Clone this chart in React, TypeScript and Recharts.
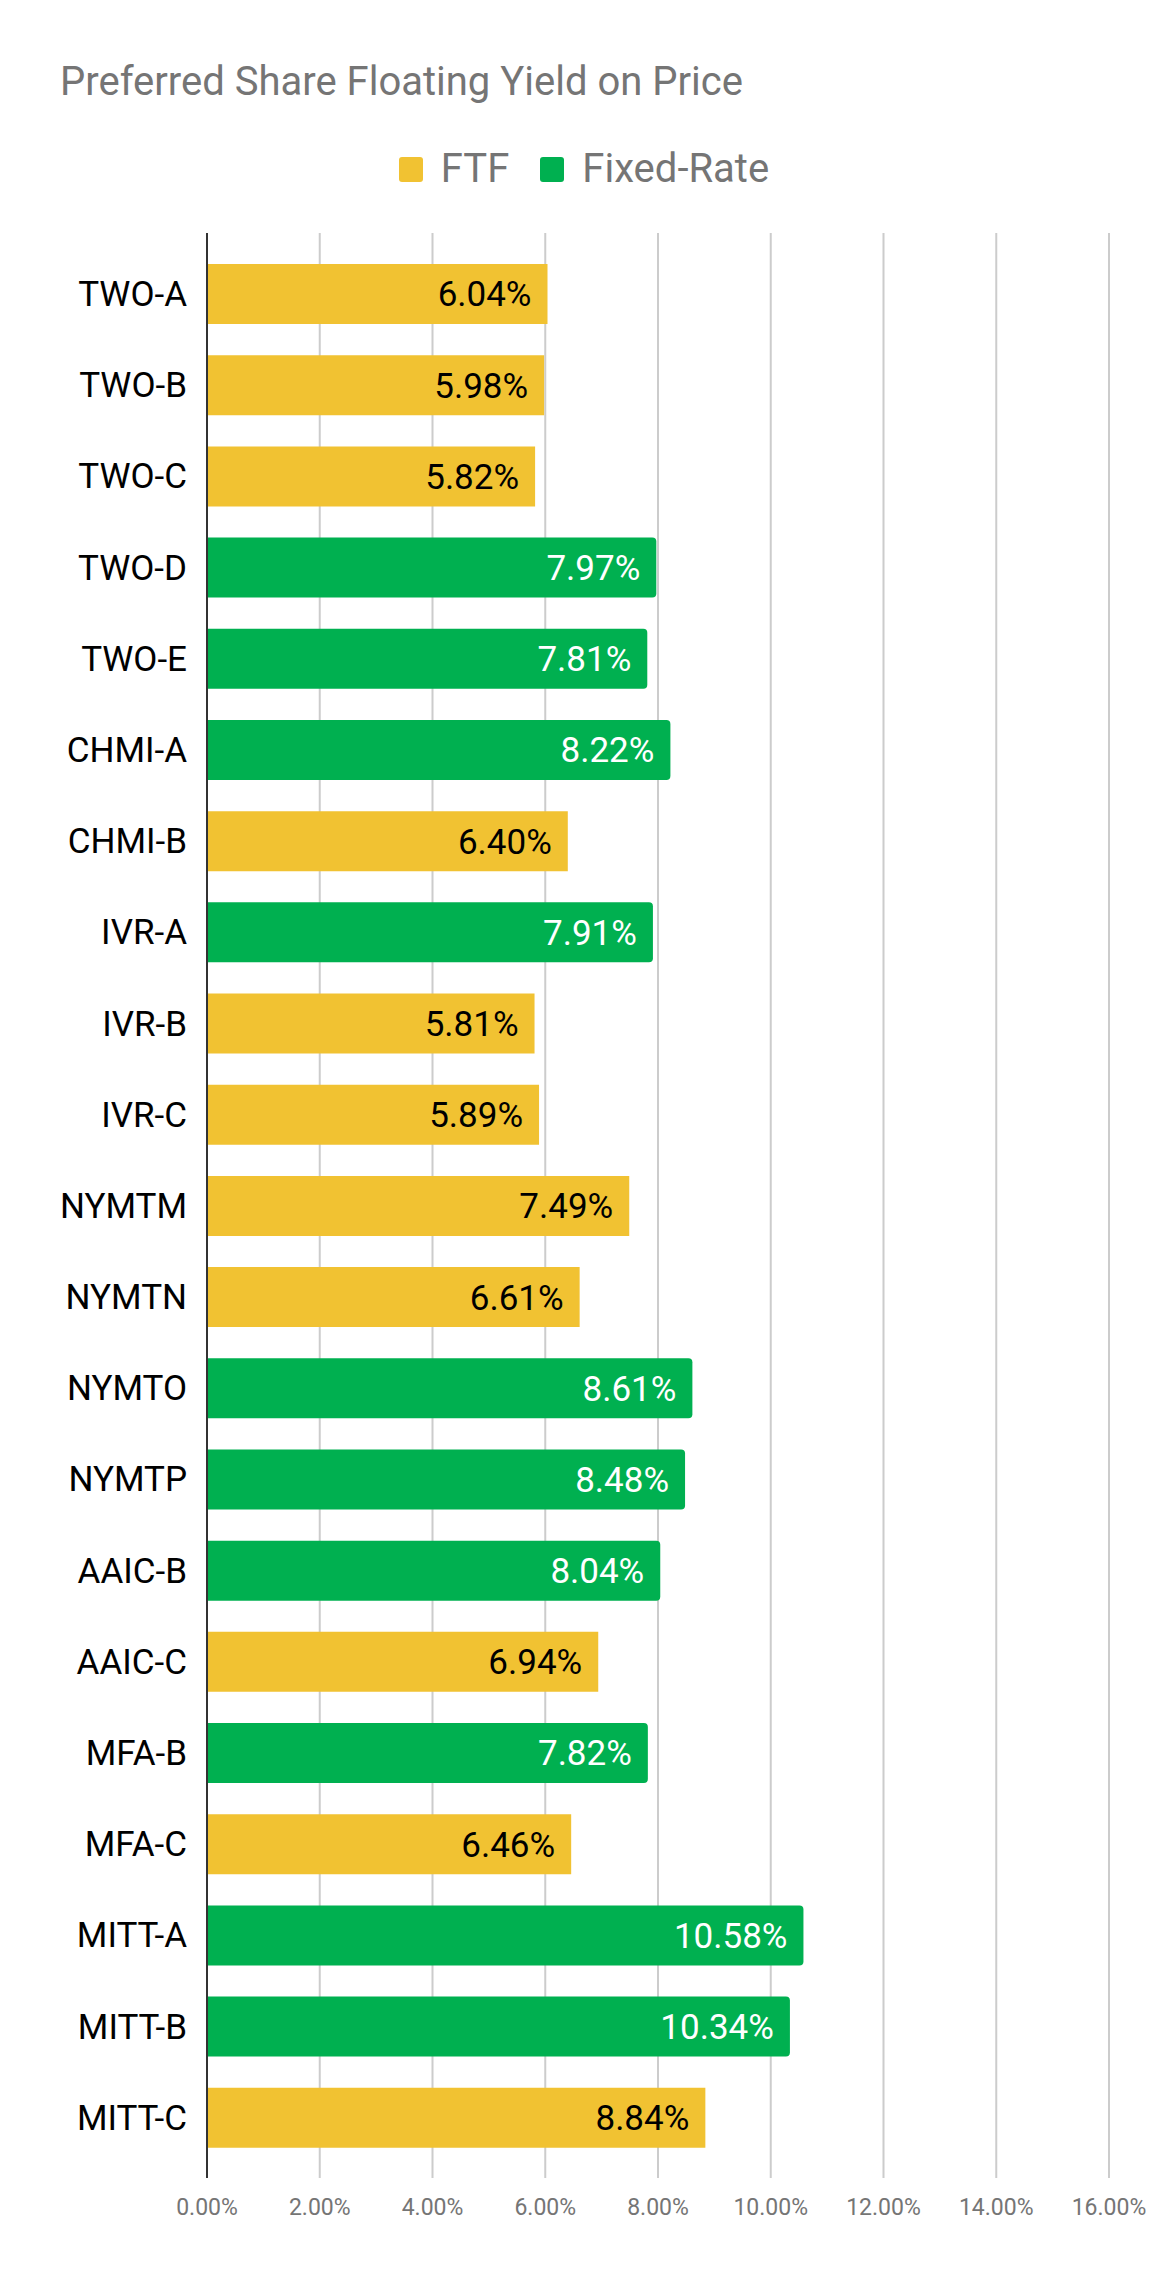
import React from "react";
import { BarChart, Bar, XAxis, YAxis, CartesianGrid, LabelList, Legend } from "recharts";

const categories = [
  "TWO-A", "TWO-B", "TWO-C", "TWO-D", "TWO-E", "CHMI-A", "CHMI-B", "IVR-A", "IVR-B", "IVR-C",
  "NYMTM", "NYMTN", "NYMTO", "NYMTP", "AAIC-B", "AAIC-C", "MFA-B", "MFA-C", "MITT-A", "MITT-B", "MITT-C",
];
const yields = [
  6.04, 5.98, 5.82, 7.97, 7.81, 8.22, 6.4, 7.91, 5.81, 5.89,
  7.49, 6.61, 8.61, 8.48, 8.04, 6.94, 7.82, 6.46, 10.58, 10.34, 8.84,
];
const types = [
  "FTF", "FTF", "FTF", "Fixed-Rate", "Fixed-Rate", "Fixed-Rate", "FTF", "Fixed-Rate", "FTF", "FTF",
  "FTF", "FTF", "Fixed-Rate", "Fixed-Rate", "Fixed-Rate", "FTF", "Fixed-Rate", "FTF", "Fixed-Rate", "Fixed-Rate", "FTF",
];
const xTicks = [0, 2, 4, 6, 8, 10, 12, 14, 16];
const seriesNames = ["FTF", "Fixed-Rate"];
const seriesColors = ["#f1c232", "#00b050"];
const title = "Preferred Share Floating Yield on Price";

const data = categories.map((name, i) => ({
  name,
  ftf: types[i] === "FTF" ? yields[i] : null,
  fixed: types[i] === "Fixed-Rate" ? yields[i] : null,
}));

const fmt = (v: any) => (v == null ? "" : Number(v).toFixed(2) + "%");

const LegendContent = () => (
  <div style={{ display: "flex", justifyContent: "center", alignItems: "center", width: 1168 }}>
    {seriesNames.map((n, i) => (
      <div key={n} style={{ display: "flex", alignItems: "center", marginLeft: i === 0 ? 0 : 31 }}>
        <div style={{ width: 24, height: 25, borderRadius: 3, background: seriesColors[i], marginRight: 18 }} />
        <span style={{ fontSize: 40, lineHeight: "40px", color: "#757575", fontFamily: "Roboto" }}>{n}</span>
      </div>
    ))}
  </div>
);

export default function App() {
  return (
    <div style={{ position: "absolute", left: 0, top: 0, width: 1168, height: 2280, background: "#fff", fontFamily: "Roboto" }}>
      <div
        style={{
          position: "absolute",
          left: 60,
          top: 62,
          fontSize: 40,
          lineHeight: "40px",
          color: "#757575",
          fontFamily: "Roboto",
          whiteSpace: "nowrap",
        }}
      >
        {title}
      </div>
      <BarChart
        width={1168}
        height={2280}
        data={data}
        layout="vertical"
        margin={{ top: 233, right: 59, bottom: 42, left: 0 }}
        barSize={60}
      >
        <CartesianGrid horizontal={false} stroke="#cccccc" strokeWidth={2} />
        <XAxis
          type="number"
          domain={[0, 16]}
          ticks={xTicks}
          tickFormatter={fmt}
          axisLine={false}
          tickLine={false}
          tickSize={0}
          tickMargin={21}
          height={60}
          interval={0}
          tick={{ fill: "#757575", fontSize: 23, fontFamily: "Roboto" }}
        />
        <YAxis
          type="category"
          dataKey="name"
          width={207}
          axisLine={{ stroke: "#333333", strokeWidth: 2 }}
          tickLine={false}
          tickSize={0}
          tickMargin={20}
          interval={0}
          padding={{ top: 15, bottom: 15 }}
          tick={{ fill: "#000000", fontSize: 35, fontFamily: "Roboto" }}
        />
        <Legend
          layout="horizontal"
          verticalAlign="middle"
          align="center"
          wrapperStyle={{ top: 149, left: 0, width: 1168 }}
          content={LegendContent}
        />
        <Bar dataKey="ftf" name={seriesNames[0]} stackId="a" fill={seriesColors[0]} isAnimationActive={false}>
          <LabelList dataKey="ftf" position="insideRight" offset={16} formatter={fmt} fill="#000000" fontSize={35} fontFamily="Roboto" />
        </Bar>
        <Bar dataKey="fixed" name={seriesNames[1]} stackId="a" fill={seriesColors[1]} radius={[0, 4, 4, 0]} isAnimationActive={false}>
          <LabelList dataKey="fixed" position="insideRight" offset={16} formatter={fmt} fill="#ffffff" fontSize={35} fontFamily="Roboto" />
        </Bar>
      </BarChart>
    </div>
  );
}
